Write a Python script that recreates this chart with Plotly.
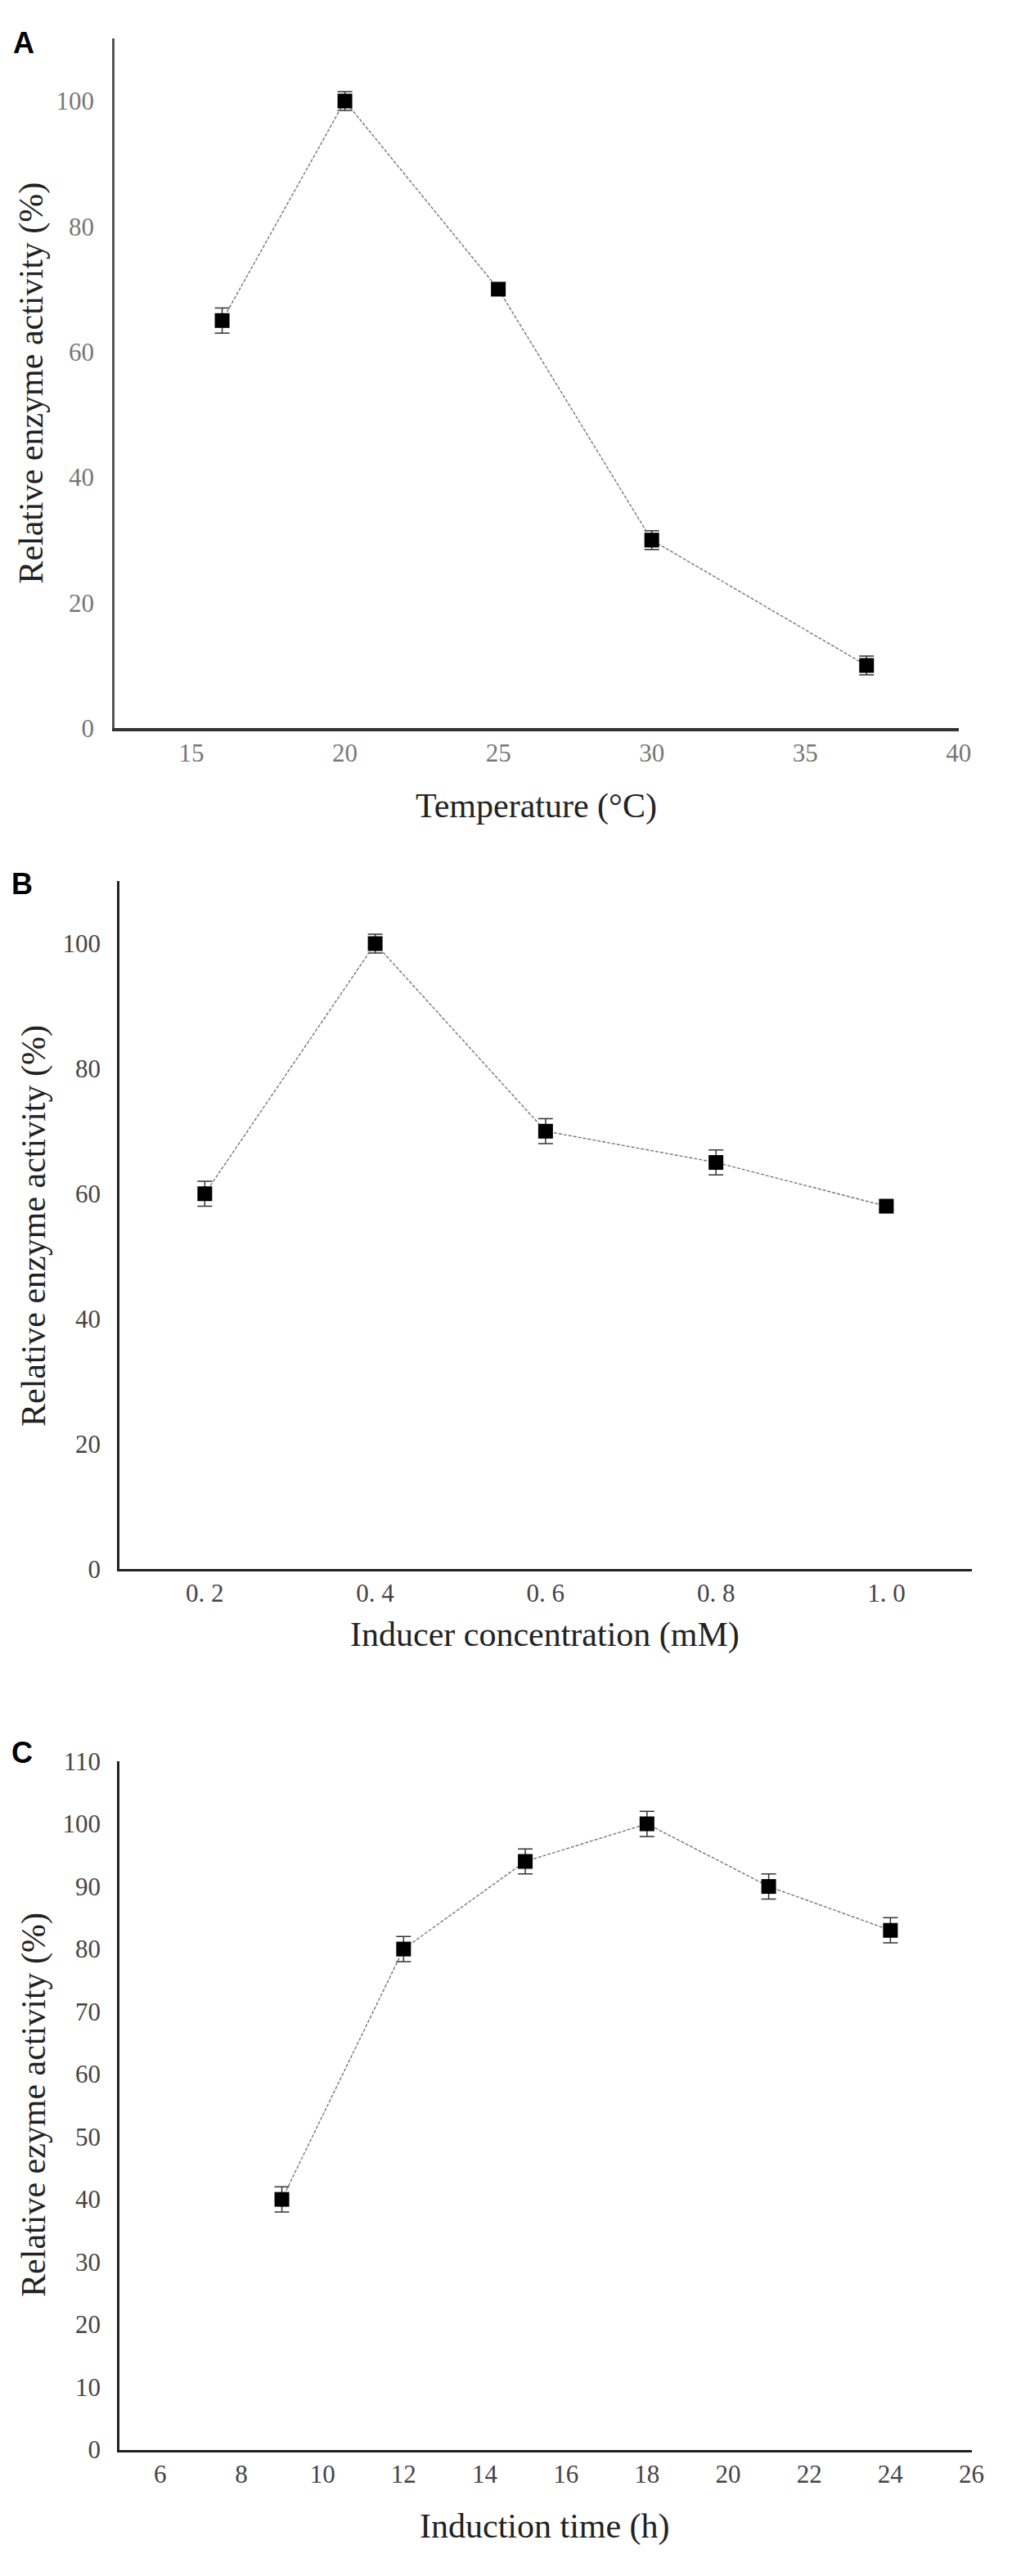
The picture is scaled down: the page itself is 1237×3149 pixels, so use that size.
import plotly.graph_objects as go

W, H = 1237, 3149

# panel A: temperature
tempX = [16, 20, 25, 30, 37]
tempY = [65, 100, 70, 30, 10]
tempErr = [2, 1.5, 1, 1.5, 1.5]
tempTicks = [15, 20, 25, 30, 35, 40]

# panel B: inducer concentration
concX = [0.2, 0.4, 0.6, 0.8, 1.0]
concY = [60, 100, 70, 65, 58]
concErr = [2, 1.5, 2, 2, 0.5]
concTicks = [0.2, 0.4, 0.6, 0.8, 1.0]
concTickText = ["0. 2", "0. 4", "0. 6", "0. 8", "1. 0"]

# panel C: induction time
timeX = [9, 12, 15, 18, 21, 24]
timeY = [40, 80, 94, 100, 90, 83]
timeErr = [2, 2, 2, 2, 2, 2]
timeTicks = [6, 8, 10, 12, 14, 16, 18, 20, 22, 24, 26]

serif = "Liberation Serif, Times New Roman, serif"

def px_dom(a, b, total, flip=False):
    if flip:
        return [1 - b / total, 1 - a / total]
    return [a / total, b / total]

fig = go.Figure()

panels = [
    dict(x=tempX, y=tempY, err=tempErr, xs="x", ys="y"),
    dict(x=concX, y=concY, err=concErr, xs="x2", ys="y2"),
    dict(x=timeX, y=timeY, err=timeErr, xs="x3", ys="y3"),
]
for p in panels:
    fig.add_trace(go.Scatter(
        x=p["x"], y=p["y"], xaxis=p["xs"], yaxis=p["ys"],
        mode="lines+markers",
        line=dict(color="#777777", width=1.4, dash="4px,2px"),
        marker=dict(symbol="square", size=18, color="black"),
        error_y=dict(type="data", array=p["err"], visible=True,
                     color="#333333", thickness=1.5, width=9),
        showlegend=False,
    ))

tickFontA = dict(family=serif, size=31, color="#777777")
tickFont = dict(family=serif, size=31, color="#444444")

fig.update_layout(
    width=W, height=H,
    margin=dict(l=0, r=0, t=0, b=0),
    paper_bgcolor="white", plot_bgcolor="white",
    xaxis=dict(domain=px_dom(134, 1179, W), range=[12.5, 40],
               tickvals=tempTicks, showgrid=False, zeroline=False,
               showline=True, linecolor="#333333", linewidth=4,
               ticks="", tickfont=tickFontA, ticklabelstandoff=0, anchor="y"),
    yaxis=dict(domain=px_dom(22, 875, H, True), range=[0, 110],
               tickvals=[0, 20, 40, 60, 80, 100], showgrid=False, zeroline=False,
               showline=True, linecolor="#555555", linewidth=3,
               ticks="", tickfont=tickFontA, ticklabelstandoff=16, anchor="x"),
    xaxis2=dict(domain=px_dom(140, 1195, W), range=[0.1, 1.1],
                tickvals=concTicks, ticktext=concTickText, showgrid=False, zeroline=False,
                showline=True, linecolor="#222222", linewidth=3,
                ticks="", tickfont=tickFont, ticklabelstandoff=0, anchor="y2"),
    yaxis2=dict(domain=px_dom(1064, 1914, H, True), range=[0, 110],
                tickvals=[0, 20, 40, 60, 80, 100], showgrid=False, zeroline=False,
                showline=True, linecolor="#222222", linewidth=3,
                ticks="", tickfont=tickFont, ticklabelstandoff=14, anchor="x2"),
    xaxis3=dict(domain=px_dom(140, 1195, W), range=[5, 26],
                tickvals=timeTicks, showgrid=False, zeroline=False,
                showline=True, linecolor="#222222", linewidth=3,
                ticks="", tickfont=tickFont, ticklabelstandoff=0, anchor="y3"),
    yaxis3=dict(domain=px_dom(2152, 3003, H, True), range=[0, 110],
                tickvals=list(range(0, 111, 10)), showgrid=False, zeroline=False,
                showline=True, linecolor="#222222", linewidth=3,
                ticks="", tickfont=tickFont, ticklabelstandoff=14, anchor="x3"),
)

titleFont = dict(family=serif, size=42, color="#222222")
labelFont = dict(family="Liberation Sans, Arial, sans-serif", size=36, color="black")

notes = [
    # panel letters
    dict(text="<b>A</b>", x=6, y=28, font=labelFont, xanchor="left"),
    dict(text="<b>B</b>", x=4, y=1067, font=labelFont, xanchor="left"),
    dict(text="<b>C</b>", x=4, y=2141, font=labelFont, xanchor="left"),
    # x titles
    dict(text="Temperature (°C)", x=656, y=971, font=titleFont),
    dict(text="Inducer concentration (mM)", x=667, y=1996, font=titleFont),
    dict(text="Induction time (h)", x=667, y=3098, font=titleFont),
    # y titles
    dict(text="Relative enzyme activity (%)", x=30, y=448, font=titleFont, textangle=-90),
    dict(text="Relative enzyme activity (%)", x=34, y=1490, font=titleFont, textangle=-90),
    dict(text="Relative ezyme activity (%)", x=34, y=2577, font=titleFont, textangle=-90),
]
for n in notes:
    fig.add_annotation(
        text=n["text"], xref="paper", yref="paper",
        x=n["x"] / W, y=1 - n["y"] / H,
        xanchor=n.get("xanchor", "center"), yanchor="middle",
        showarrow=False, font=n["font"], textangle=n.get("textangle", 0),
    )

fig.write_html("out.html")
